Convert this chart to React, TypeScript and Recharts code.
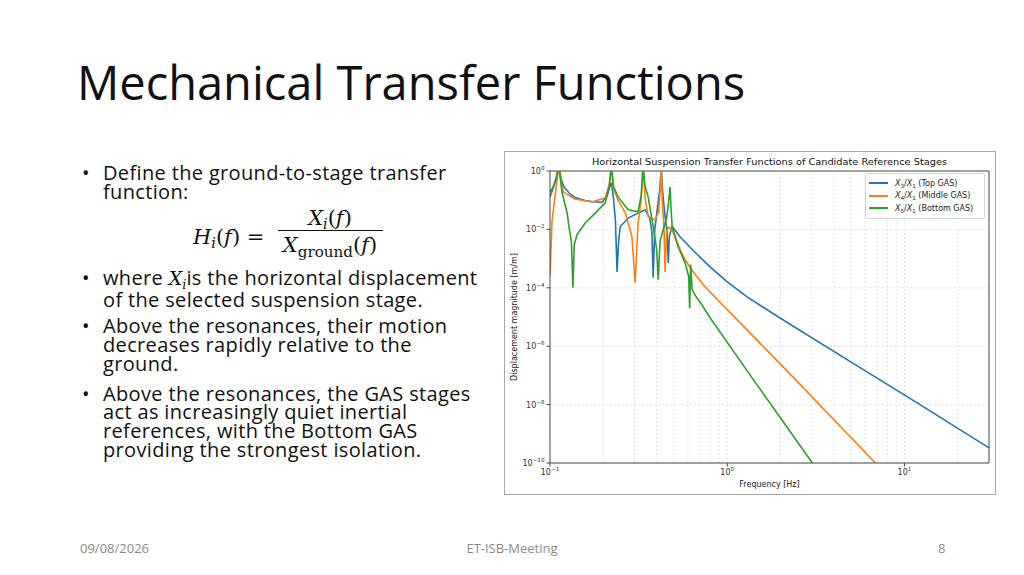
import { LineChart, Line, XAxis, YAxis, ReferenceLine, Legend } from 'recharts';

// frequencies in Hz, magnitudes in m/m
const topFreq = [0.1, 0.104, 0.108, 0.112, 0.116, 0.12, 0.13, 0.14, 0.158, 0.175, 0.197, 0.21, 0.218, 0.222, 0.228, 0.234, 0.239, 0.244, 0.249, 0.276, 0.314, 0.344, 0.365, 0.376, 0.382, 0.39, 0.405, 0.418, 0.424, 0.432, 0.445, 0.458, 0.465, 0.472, 0.489, 0.543, 0.643, 0.8, 1.0, 1.3, 2.07, 4.95, 10.8, 30];
const topMag = [0.19, 0.28, 0.55, 1.5, 0.5, 0.28, 0.16, 0.12, 0.098, 0.088, 0.085, 0.14, 0.3, 0.4, 0.12, 0.02, 3.5e-4, 0.004, 0.0123, 0.0245, 0.036, 0.047, 0.025, 0.008, 2.2e-4, 0.01, 0.06, 0.3, 1.5, 0.2, 0.03, 0.008, 7e-4, 0.006, 0.0126, 0.0055, 1.9e-3, 5.2e-4, 1.6e-4, 4.8e-5, 7.9e-6, 2.95e-7, 1.6e-8, 3.3e-10];

const midFreq = [0.1, 0.1026, 0.1067, 0.112, 0.116, 0.119, 0.138, 0.173, 0.205, 0.216, 0.222, 0.228, 0.242, 0.266, 0.29, 0.302, 0.314, 0.327, 0.335, 0.344, 0.358, 0.392, 0.41, 0.418, 0.424, 0.43, 0.44, 0.446, 0.455, 0.465, 0.489, 0.543, 0.579, 0.643, 0.751, 2.07, 6.86, 8];
const midMag = [2.5e-4, 0.018, 0.13, 1.5, 0.4, 0.19, 0.11, 0.087, 0.12, 0.35, 1.5, 0.25, 0.1, 0.037, 0.0056, 1.5e-4, 0.016, 0.1, 1.5, 0.12, 0.027, 0.021, 0.04, 0.2, 1.2, 0.1, 0.01, 3.5e-4, 0.008, 0.012, 0.0096, 0.002, 9.1e-4, 3.5e-4, 1.07e-4, 1.95e-7, 1e-10, 3e-11];

const botFreq = [0.1, 0.104, 0.108, 0.112, 0.117, 0.125, 0.128, 0.132, 0.1347, 0.137, 0.142, 0.158, 0.18, 0.205, 0.216, 0.222, 0.228, 0.242, 0.276, 0.314, 0.327, 0.335, 0.344, 0.358, 0.382, 0.4, 0.408, 0.418, 0.44, 0.455, 0.468, 0.476, 0.482, 0.489, 0.529, 0.579, 0.606, 0.614, 0.622, 0.634, 0.66, 0.704, 0.8, 1.35, 2.07, 3.02, 3.4];
const botMag = [0.13, 0.25, 0.5, 1.5, 0.18, 0.036, 0.012, 0.004, 1e-4, 0.003, 0.0065, 0.0166, 0.036, 0.081, 0.3, 1.5, 0.3, 0.13, 0.047, 0.04, 0.15, 1.5, 0.3, 0.13, 0.0126, 0.002, 1.9e-4, 0.004, 0.012, 0.025, 0.1, 0.28, 0.05, 0.0126, 0.0025, 7e-4, 2.5e-4, 2e-5, 6.3e-4, 8.5e-5, 5.5e-5, 3.2e-5, 9.4e-6, 1e-7, 2.6e-9, 1e-10, 3.8e-11];

const seriesNames = ['Top GAS', 'Middle GAS', 'Bottom GAS'];
const stageIndex = [3, 4, 5];
const seriesColors = ['#1f77b4', '#ff7f0e', '#2ca02c'];

const xTicks = [0.1, 1, 10];
const yTicks = [1, 1e-2, 1e-4, 1e-6, 1e-8, 1e-10];
const xGrid = [0.2, 0.3, 0.4, 0.5, 0.6, 0.7, 0.8, 0.9, 1, 2, 3, 4, 5, 6, 7, 8, 9, 10, 20];
const yGrid = [1e-2, 1e-4, 1e-6, 1e-8];
const xDomain = [0.1, 30];
const yDomain = [1e-10, 1];

const toPoints = (fs: number[], ms: number[]) => fs.map((f, i) => ({ f, m: ms[i] }));
const seriesData = [toPoints(topFreq, topMag), toPoints(midFreq, midMag), toPoints(botFreq, botMag)];

const fmtExp = (v: number) => {
    const e = Math.round(Math.log10(v));
    return e < 0 ? `\u2212${-e}` : `${e}`;
};

const XTick = (props: any) => {
    const { x, y, payload } = props;
    return (
        <text x={x} y={y + 6.5} textAnchor="middle" fontFamily="DejaVu Sans" fontSize={8} fill="#333">
            10<tspan dy={-4} fontSize={5.6}>{fmtExp(payload.value)}</tspan>
        </text>
    );
};

const YTick = (props: any) => {
    const { x, y, payload } = props;
    return (
        <text x={x} y={y + 3} textAnchor="end" fontFamily="DejaVu Sans" fontSize={8} fill="#333">
            10<tspan dy={-4} fontSize={5.6}>{fmtExp(payload.value)}</tspan>
        </text>
    );
};

const LegendBox = () => (
    <div
        style={{
            border: '1px solid #d6d6d6',
            borderRadius: 2,
            background: 'rgba(255,255,255,0.85)',
            padding: '3px 5px 3px 3px',
            fontFamily: 'DejaVu Sans',
            fontSize: 8,
            color: '#222',
            width: 110,
        }}
    >
        {seriesNames.map((name, i) => (
            <div key={name} style={{ display: 'flex', alignItems: 'center', height: 12.5 }}>
                <span style={{ display: 'inline-block', width: 19, height: 1.8, background: seriesColors[i], marginRight: 7 }} />
                <span style={{ whiteSpace: 'nowrap' }}>
                    <i>X</i>
                    <span style={{ fontSize: 5.6, position: 'relative', top: 2 }}>{stageIndex[i]}</span>/<i>X</i>
                    <span style={{ fontSize: 5.6, position: 'relative', top: 2 }}>1</span> ({name})
                </span>
            </div>
        ))}
    </div>
);

const slideFont = '"Open Sans", sans-serif';
const mathFont = '"DejaVu Serif", serif';

const bullet = (top: number) => (
    <span style={{ position: 'absolute', left: 82, top: top, fontSize: 20, lineHeight: '18.8px', fontFamily: slideFont, color: '#111' }}>•</span>
);

const sub = (t: string) => (
    <span style={{ fontSize: '0.68em', position: 'relative', top: '0.3em', fontStyle: 'italic' }}>{t}</span>
);

export default function App() {
    const paraStyle = (top: number): React.CSSProperties => ({
        position: 'absolute',
        left: 103,
        top,
        fontFamily: slideFont,
        fontSize: 20,
        lineHeight: '18.8px',
        color: '#111',
        whiteSpace: 'nowrap',
        letterSpacing: 0.35,
    });

    const mathBox: React.CSSProperties = {
        position: 'absolute',
        fontFamily: mathFont,
        fontSize: 21,
        lineHeight: '21px',
        whiteSpace: 'nowrap',
        color: '#111',
    };

    return (
        <div style={{ position: 'absolute', left: 0, top: 0, width: 1024, height: 575, background: '#fff', overflow: 'hidden' }}>
            <div style={{ position: 'absolute', left: 77, top: 59, fontFamily: slideFont, fontSize: 47, lineHeight: '47px', color: '#111', whiteSpace: 'nowrap' }}>
                Mechanical Transfer Functions
            </div>

            {bullet(164)}
            <div style={paraStyle(164)}>
                Define the ground-to-stage transfer
                <br />
                function:
            </div>

            {/* formula */}
            <div style={{ ...mathBox, left: 193, top: 227 }}>
                <i>H</i>
                {sub('i')}(<i>f</i>) =
            </div>
            <div style={{ ...mathBox, left: 277, width: 106, textAlign: 'center', top: 208 }}>
                <i>X</i>
                {sub('i')}(<i>f</i>)
            </div>
            <div style={{ position: 'absolute', left: 278, width: 105, top: 230, height: 1.3, background: '#111' }} />
            <div style={{ ...mathBox, left: 277, width: 106, textAlign: 'center', top: 235 }}>
                <i>X</i>
                <span style={{ fontSize: '0.72em', position: 'relative', top: '0.3em' }}>ground</span>(<i>f</i>)
            </div>

            {bullet(269)}
            <div style={paraStyle(269)}>
                where <span style={{ fontFamily: mathFont, fontSize: 19, letterSpacing: 0 }}><i>X</i>{sub('i')}</span>is the horizontal displacement
                <br />
                of the selected suspension stage.
            </div>

            {bullet(317)}
            <div style={paraStyle(317)}>
                Above the resonances, their motion
                <br />
                decreases rapidly relative to the
                <br />
                ground.
            </div>

            {bullet(384.5)}
            <div style={paraStyle(384.5)}>
                Above the resonances, the GAS stages
                <br />
                act as increasingly quiet inertial
                <br />
                references, with the Bottom GAS
                <br />
                providing the strongest isolation.
            </div>

            {/* chart figure */}
            <div style={{ position: 'absolute', left: 504, top: 151, width: 490, height: 342, border: '1px solid #a8a8a8' }} />
            <div style={{ position: 'absolute', left: 505, top: 152, width: 490, height: 342 }}>
                <LineChart width={490} height={342} margin={{ top: 19, right: 6, bottom: 0, left: 0 }}>
                    {xGrid.map((v) => (
                        <ReferenceLine key={`gx${v}`} x={v} stroke="#dcdcdc" strokeWidth={0.8} strokeDasharray="2 2" />
                    ))}
                    {yGrid.map((v) => (
                        <ReferenceLine key={`gy${v}`} y={v} stroke="#dcdcdc" strokeWidth={0.8} strokeDasharray="2 2" />
                    ))}
                    <ReferenceLine x={xDomain[1]} stroke="#444" strokeWidth={1} />
                    <ReferenceLine y={yDomain[1]} stroke="#444" strokeWidth={1} />
                    <XAxis
                        dataKey="f"
                        type="number"
                        scale="log"
                        domain={xDomain}
                        allowDataOverflow
                        ticks={xTicks}
                        tick={<XTick />}
                        height={31}
                        stroke="#444"
                        tickSize={3.5}
                    />
                    <YAxis
                        dataKey="m"
                        type="number"
                        scale="log"
                        domain={yDomain}
                        allowDataOverflow
                        ticks={yTicks}
                        tick={<YTick />}
                        width={45}
                        stroke="#444"
                        tickSize={3.5}
                    />
                    <Legend
                        layout="vertical"
                        align="center"
                        verticalAlign="middle"
                        content={<LegendBox />}
                        wrapperStyle={{ top: 21, left: 360, width: 120 }}
                    />
                    {seriesData.map((d, i) => (
                        <Line
                            key={seriesNames[i]}
                            data={d}
                            dataKey="m"
                            type="linear"
                            stroke={seriesColors[i]}
                            strokeWidth={1.6}
                            dot={false}
                            isAnimationActive={false}
                            name={seriesNames[i]}
                        />
                    ))}
                </LineChart>
                <svg width={490} height={342} style={{ position: 'absolute', left: 0, top: 0, pointerEvents: 'none' }}>
                    <text x={264.5} y={13} textAnchor="middle" fontFamily="DejaVu Sans" fontSize={9} fill="#111" textLength={355} lengthAdjust="spacingAndGlyphs">
                        Horizontal Suspension Transfer Functions of Candidate Reference Stages
                    </text>
                    <text x={264.5} y={335} textAnchor="middle" fontFamily="DejaVu Sans" fontSize={8} fill="#222">
                        Frequency [Hz]
                    </text>
                    <text transform="translate(12, 165) rotate(-90)" textAnchor="middle" fontFamily="DejaVu Sans" fontSize={8} fill="#222">
                        Displacement magnitude [m/m]
                    </text>
                </svg>
            </div>

            {/* footer */}
            <div style={{ position: 'absolute', left: 80, top: 539, fontFamily: slideFont, fontSize: 13, color: '#8a8a8a' }}>09/08/2026</div>
            <div style={{ position: 'absolute', left: 412, width: 200, textAlign: 'center', top: 539, fontFamily: slideFont, fontSize: 13, color: '#8a8a8a' }}>ET-ISB-Meeting</div>
            <div style={{ position: 'absolute', left: 938, top: 539, fontFamily: slideFont, fontSize: 13, color: '#8a8a8a' }}>8</div>
        </div>
    );
}
